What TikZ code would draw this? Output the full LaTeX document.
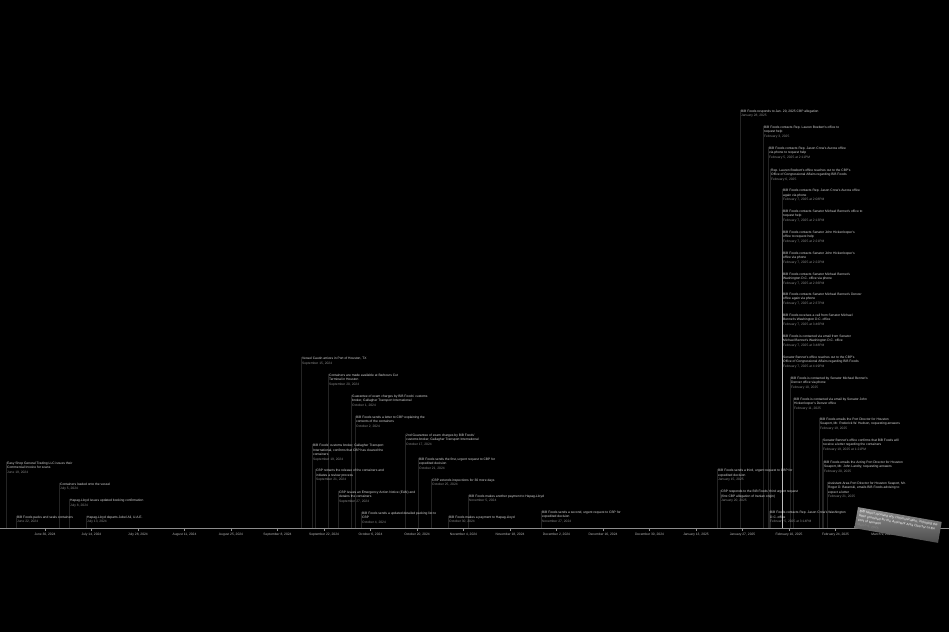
\documentclass[tikz,border=0pt]{standalone}
\usepackage{fontspec}
\setmainfont{Liberation Sans}
\usepackage{tikz}
\definecolor{evtext}{HTML}{D8D8D8}
\definecolor{evdate}{HTML}{8A8A8A}
\definecolor{axisgray}{HTML}{8C8C8C}
\definecolor{notetop}{HTML}{8E8E8E}
\definecolor{notebot}{HTML}{4C4C4C}
\newcommand\evfont{\fontsize{3.3}{4.5}\selectfont}
\newcommand\evdate[1]{\\\textcolor{evdate}{#1}}
\tikzset{
  ev/.style={anchor=north west, inner xsep=1pt, inner ysep=0pt, align=left, text=evtext, font=\evfont},
  stem/.style={white, opacity=0.14, line width=0.4pt},
  ticklbl/.style={anchor=north, inner sep=0pt, text=evtext!85!black, font=\evfont},
  notebox/.style={top color=notetop, bottom color=notebot, text=white, font=\evfont, align=left, text width=80pt, inner sep=2.5pt}
}

\begin{document}
\begin{tikzpicture}[x=1pt, y=-1pt]

\fill[black] (0,0) rectangle (949,632);
\useasboundingbox (0,0) rectangle (949,632);

\coordinate (ax)  at (0,528);
\coordinate (axe) at (949,528);

% events, left part
\node[ev] (e01) at (6,461.5) {Easy Shop General Trading LLC issues their\\Commercial Invoice for scans\evdate{June 19, 2024}};
\node[ev] (e02) at (16,515.5) {BiB Foods packs and seals containers\evdate{June 22, 2024}};
\node[ev] (e03) at (59,482.5) {Containers loaded onto the vessel\evdate{July 5, 2024}};
\node[ev] (e04) at (69,499) {Hapag-Lloyd issues updated booking confirmation\evdate{July 8, 2024}};
\node[ev] (e05) at (86,515.5) {Hapag-Lloyd departs Jebel Ali, U.A.E.\evdate{July 13, 2024}};

% events, autumn 2024
\node[ev] (e06) at (301,357) {Vessel Cautin arrives in Port of Houston, TX\evdate{September 15, 2024}};
\node[ev] (e07) at (328,373.5) {Containers are made available at Barbours Cut\\Terminal in Houston\evdate{September 20, 2024}};
\node[ev] (e08) at (351,394.5) {Guarantee of exam charges by BiB Foods' customs\\broker, Gallagher Transport International\evdate{October 1, 2024}};
\node[ev] (e09) at (355,415.5) {BiB Foods sends a letter to CBP explaining the\\contents of the containers\evdate{October 2, 2024}};
\node[ev] (e10) at (312,444) {BiB Foods' customs broker, Gallagher Transport\\International, confirms that CBP has cleared the\\containers\evdate{September 19, 2024}};
\node[ev] (e11) at (315,469) {CBP retracts the release of the containers and\\initiates a review process\evdate{September 21, 2024}};
\node[ev] (e12) at (338,490.5) {CBP issues an Emergency Action Notice (EAN) and\\detains the containers\evdate{September 27, 2024}};
\node[ev] (e13) at (361,511.5) {BiB Foods sends a updated detailed packing list to\\CBP\evdate{October 4, 2024}};
\node[ev] (e14) at (405,433.5) {2nd Guarantee of exam charges by BiB Foods'\\customs broker, Gallagher Transport International\evdate{October 17, 2024}};
\node[ev] (e15) at (418,457.5) {BiB Foods sends the first, urgent request to CBP for\\expedited decision\evdate{October 21, 2024}};
\node[ev] (e16) at (431,478.5) {CBP extends inspections for 30 more days\evdate{October 25, 2024}};
\node[ev] (e17) at (468,494.5) {BiB Foods makes another payment to Hapag-Lloyd\evdate{November 5, 2024}};
\node[ev] (e18) at (448,515.5) {BiB Foods makes a payment to Hapag-Lloyd\evdate{October 30, 2024}};
\node[ev] (e19) at (541,510.5) {BiB Foods sends a second, urgent request to CBP for\\expedited decision\evdate{November 27, 2024}};

% events, 2025
\node[ev] (e20) at (717,469) {BiB Foods sends a third, urgent request to CBP for\\expedited decision\evdate{January 15, 2025}};
\node[ev] (e21) at (720,490) {CBP responds to the BiB Foods' third urgent request\\(first CBP allegation of Iranian origin)\evdate{January 20, 2025}};
\node[ev] (e22) at (740,109.5) {BiB Foods responds to Jan. 20, 2025 CBP allegation\evdate{January 28, 2025}};
\node[ev] (e23) at (763,125.5) {BiB Foods contacts Rep. Lauren Boebert's office to\\request help\evdate{February 3, 2025}};
\node[ev] (e24) at (768,146.5) {BiB Foods contacts Rep. Jason Crow's Aurora office\\via phone to request help\evdate{February 5, 2025 at 2:11PM}};
\node[ev] (e25) at (769,511) {BiB Foods contacts Rep. Jason Crow's Washington\\D.C. office\evdate{February 5, 2025 at 3:14PM}};
\node[ev] (e26) at (770,168.5) {Rep. Lauren Boebert's office reaches out to the CBP's\\Office of Congressional Affairs regarding BiB Foods\evdate{February 6, 2025}};
\node[ev] (e27) at (782,189) {BiB Foods contacts Rep. Jason Crow's Aurora office\\again via phone\evdate{February 7, 2025 at 2:08PM}};
\node[ev] (e28) at (782,209.5) {BiB Foods contacts Senator Michael Bennet's office to\\request help\evdate{February 7, 2025 at 2:13PM}};
\node[ev] (e29) at (782,230.5) {BiB Foods contacts Senator John Hickenlooper's\\office to request help\evdate{February 7, 2025 at 2:21PM}};
\node[ev] (e30) at (782,251.5) {BiB Foods contacts Senator John Hickenlooper's\\office via phone\evdate{February 7, 2025 at 2:22PM}};
\node[ev] (e31) at (782,272.5) {BiB Foods contacts Senator Michael Bennet's\\Washington D.C. office via phone\evdate{February 7, 2025 at 2:36PM}};
\node[ev] (e32) at (782,292.5) {BiB Foods contacts Senator Michael Bennet's Denver\\office again via phone\evdate{February 7, 2025 at 2:37PM}};
\node[ev] (e33) at (782,313.5) {BiB Foods receives a call from Senator Michael\\Bennet's Washington D.C. office\evdate{February 7, 2025 at 3:46PM}};
\node[ev] (e34) at (782,334.5) {BiB Foods is contacted via email from Senator\\Michael Bennet's Washington D.C. office\evdate{February 7, 2025 at 3:48PM}};
\node[ev] (e35) at (782,355.5) {Senator Bennet's office reaches out to the CBP's\\Office of Congressional Affairs regarding BiB Foods\evdate{February 7, 2025 at 4:19PM}};
\node[ev] (e36) at (790,376.5) {BiB Foods is contacted by Senator Michael Bennet's\\Denver office via phone\evdate{February 10, 2025}};
\node[ev] (e37) at (793,397.5) {BiB Foods is contacted via email by Senator John\\Hickenlooper's Denver office\evdate{February 11, 2025}};
\node[ev] (e38) at (819,417.5) {BiB Foods emails the Port Director for Houston\\Seaport, Mr. Roderick W. Hudson, requesting answers\evdate{February 19, 2025}};
\node[ev] (e39) at (822,438.5) {Senator Bennet's office confirms that BiB Foods will\\receive a letter regarding the containers\evdate{February 19, 2025 at 1:21PM}};
\node[ev] (e40) at (823,460.5) {BiB Foods emails the Acting Port Director for Houston\\Seaport, Mr. John Landry, requesting answers\evdate{February 20, 2025}};
\node[ev] (e41) at (827,481.5) {Assistant Area Port Director for Houston Seaport, Mr.\\Roger D. Baranski, emails BiB Foods advising to\\expect a letter\evdate{February 21, 2025}};

% stems down to the axis
\foreach \n in {e01,e02,e03,e04,e05,e06,e07,e08,e09,e10,e11,e12,e13,e14,e15,e16,e17,e18,e19,e20,
                e21,e22,e23,e24,e25,e26,e27,e28,e29,e30,e31,e32,e33,e34,e35,e36,e37,e38,e39,e40,e41}
  \draw[stem] (\n.north west) -- (\n.north west |- ax);

% axis
\draw[axisgray, line width=0.5pt] (ax) -- (axe);
\foreach \lbl [count=\i from 0] in {{June 30, 2024},{July 14, 2024},{July 28, 2024},{August 11, 2024},
    {August 25, 2024},{September 8, 2024},{September 22, 2024},{October 6, 2024},{October 20, 2024},
    {November 4, 2024},{November 18, 2024},{December 2, 2024},{December 16, 2024},{December 30, 2024},
    {January 13, 2025},{January 27, 2025},{February 10, 2025},{February 24, 2025},{March 9, 2025}}
{
  \coordinate (t\i) at (45+46.5*\i,528);
  \draw[axisgray, line width=0.4pt] (t\i) -- ++(0,3);
  \node[ticklbl] (tl\i) at ([yshift=-4.5pt]t\i) {\lbl};
}

% closing note
\node[notebox, rotate=-10] (note) at (898,525) {BiB hasn't received any communication, including the letter promised for the Assistant Area Director of the Port of Houston\evdate{March 5, 2025}};

\end{tikzpicture}
\end{document}
